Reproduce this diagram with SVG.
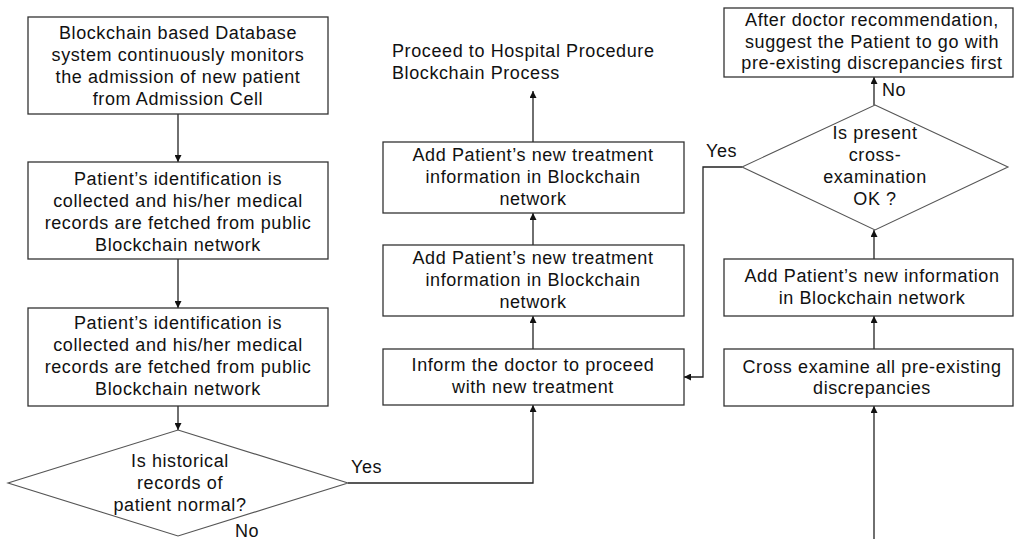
<svg xmlns="http://www.w3.org/2000/svg" width="1014" height="539" viewBox="0 0 1014 539">
<defs>
<style>
text{font-family:"Liberation Sans",Arial,sans-serif;font-size:18px;letter-spacing:0.6px;fill:#111;}
.c{text-anchor:middle;}
.box{fill:#fff;stroke:#333;stroke-width:1.3;}
.dia{fill:#fff;stroke:#555;stroke-width:1.1;}
.ln{fill:none;stroke:#222;stroke-width:1.3;marker-end:url(#ah);}
</style>
<marker id="ah" viewBox="0 0 10 10" refX="10" refY="5" markerWidth="7" markerHeight="7" markerUnits="userSpaceOnUse" orient="auto">
<path d="M0,0 L10,5 L0,10 z" fill="#111"/>
</marker>
</defs>
<rect width="1014" height="539" fill="#fff"/>
<g id="connectors">
<path class="ln" d="M178,114 V162"/>
<path class="ln" d="M178,259 V308"/>
<path class="ln" d="M178,406 V430"/>
<path class="ln" d="M348,483 H533 V405"/>
<path class="ln" d="M533,349 V316"/>
<path class="ln" d="M533,245 V213"/>
<path class="ln" d="M533,142 V91"/>
<path class="ln" d="M742,167 H703 V377 H684"/>
<path class="ln" d="M874,539 V406"/>
<path class="ln" d="M874,349 V316"/>
<path class="ln" d="M874,259 V230"/>
<path class="ln" d="M874,105 V77"/>
</g>
<g id="n1"><rect class="box" x="28" y="17" width="300" height="97"/>
<text class="c" x="178" y="39">Blockchain based Database</text>
<text class="c" x="178" y="61">system continuously monitors</text>
<text class="c" x="178" y="83">the admission of new patient</text>
<text class="c" x="178" y="105">from Admission Cell</text></g>
<g id="n2"><rect class="box" x="28" y="162" width="300" height="97"/>
<text class="c" x="178" y="185">Patient’s identification is</text>
<text class="c" x="178" y="207">collected and his/her medical</text>
<text class="c" x="178" y="229">records are fetched from public</text>
<text class="c" x="178" y="251">Blockchain network</text></g>
<g id="n3"><rect class="box" x="28" y="308" width="300" height="98"/>
<text class="c" x="178" y="329">Patient’s identification is</text>
<text class="c" x="178" y="351">collected and his/her medical</text>
<text class="c" x="178" y="373">records are fetched from public</text>
<text class="c" x="178" y="395">Blockchain network</text></g>
<g id="d1"><polygon class="dia" points="178,430 348,483 178,536 8,483"/>
<text class="c" x="180" y="467">Is historical</text>
<text class="c" x="180" y="489">records of</text>
<text class="c" x="180" y="511">patient normal?</text>
<text x="351" y="473">Yes</text>
<text x="235" y="537">No</text></g>
<g id="n4"><text x="392" y="57">Proceed to Hospital Procedure</text>
<text x="392" y="79">Blockchain Process</text></g>
<g id="n5"><rect class="box" x="383" y="142" width="301" height="71"/>
<text class="c" x="533" y="161">Add Patient’s new treatment</text>
<text class="c" x="533" y="183">information in Blockchain</text>
<text class="c" x="533" y="205">network</text></g>
<g id="n6"><rect class="box" x="383" y="245" width="301" height="71"/>
<text class="c" x="533" y="264">Add Patient’s new treatment</text>
<text class="c" x="533" y="286">information in Blockchain</text>
<text class="c" x="533" y="308">network</text></g>
<g id="n7"><rect class="box" x="383" y="349" width="301" height="56"/>
<text class="c" x="533" y="371">Inform the doctor to proceed</text>
<text class="c" x="533" y="393">with new treatment</text></g>
<g id="n8"><rect class="box" x="724" y="8" width="289" height="69"/>
<text class="c" x="872" y="26">After doctor recommendation,</text>
<text class="c" x="872" y="48">suggest the Patient to go with</text>
<text class="c" x="872" y="69">pre-existing discrepancies first</text></g>
<g id="d2"><polygon class="dia" points="875,105 1008,167 875,230 742,167"/>
<text class="c" x="875" y="139">Is present</text>
<text class="c" x="875" y="161">cross-</text>
<text class="c" x="875" y="183">examination</text>
<text class="c" x="875" y="205">OK ?</text>
<text x="882" y="96">No</text>
<text x="706" y="157">Yes</text></g>
<g id="n9"><rect class="box" x="724" y="259" width="289" height="57"/>
<text class="c" x="872" y="282">Add Patient’s new information</text>
<text class="c" x="872" y="304">in Blockchain network</text></g>
<g id="n10"><rect class="box" x="724" y="349" width="289" height="57"/>
<text class="c" x="872" y="373">Cross examine all pre-existing</text>
<text class="c" x="872" y="394">discrepancies</text></g>
</svg>
